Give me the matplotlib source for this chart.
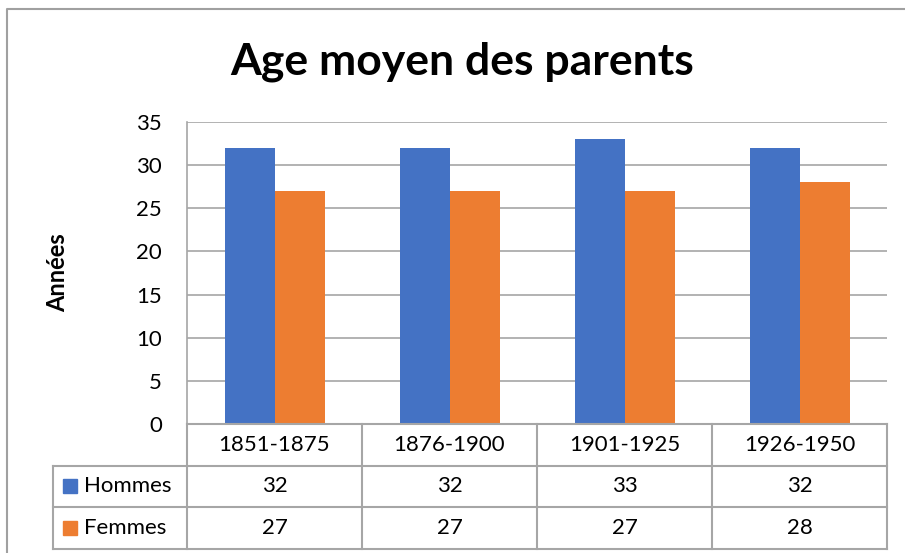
import matplotlib.pyplot as plt
import numpy as np

# -----------------------------
# Data
# -----------------------------
periods = ["1851-1875", "1876-1900", "1901-1925", "1926-1950"]
hommes = [32, 32, 33, 32]
femmes = [27, 27, 27, 28]
series_names = ["Hommes", "Femmes"]
colors = ["#4472C4", "#ED7D31"]
yticks = [0, 5, 10, 15, 20, 25, 30, 35]

plt.rcParams['font.family'] = ['Lato', 'DejaVu Sans']

W, H = 905, 553
fig = plt.figure(figsize=(W / 100, H / 100), dpi=100)

# plot area in pixels
L, R, T, B = 187, 887, 122, 424
row_h = 41.5
grid_col = "#A6A6A6"

ax = fig.add_axes([L / W, 1 - B / H, (R - L) / W, (B - T) / H])
x = np.arange(len(periods))
bw = 50 / 175
ax.bar(x - bw / 2, hommes, bw, color=colors[0], zorder=3)
ax.bar(x + bw / 2, femmes, bw, color=colors[1], zorder=3)
ax.set_xlim(-0.5, len(periods) - 0.5)
ax.set_ylim(0, 35)
ax.set_yticks(yticks)
ax.yaxis.grid(True, color=grid_col, linewidth=1.2, zorder=0)
ax.tick_params(axis='y', length=0, labelsize=16, pad=18)
ax.set_xticks([])
for s in ["top", "right", "bottom"]:
    ax.spines[s].set_visible(False)
ax.spines["left"].set_color(grid_col)
ax.spines["left"].set_linewidth(1.2)

# overlay in pixel coordinates for the data table and frame
ov2 = fig.add_axes([0, 0, 1, 1])
ov2.set_xlim(0, W)
ov2.set_ylim(H, 0)
ov2.axis('off')
ov2.patch.set_alpha(0)

# chart frame
ov2.plot([7, 7, W + 5], [H + 5, 9, 9], color="#A0A0A0", lw=1.5)

ov2.text(W / 2 + 10, 62, "Age moyen des parents", ha='center', va='center',
         fontsize=32, fontweight='bold')
ov2.text(58, (T + B) / 2, "Années", ha='center', va='center', rotation=90,
         fontsize=17, fontweight='bold')

cw = (R - L) / len(periods)
col_edges = [L + i * cw for i in range(len(periods) + 1)]
ys = [B + i * row_h for i in range(4)]
lc, lw = "#A6A6A6", 1.5

# horizontal lines
ov2.plot([L, R], [ys[0], ys[0]], color=lc, lw=lw)
for yy in ys[1:]:
    ov2.plot([53, R], [yy, yy], color=lc, lw=lw)
# vertical lines
for xx in col_edges:
    ov2.plot([xx, xx], [ys[0], ys[3]], color=lc, lw=lw)
ov2.plot([53, 53], [ys[1], ys[3]], color=lc, lw=lw)

# header text
for i, p in enumerate(periods):
    ov2.text(col_edges[i] + cw / 2, (ys[0] + ys[1]) / 2, p, ha='center',
             va='center', fontsize=16)

# rows
for r, (name, vals) in enumerate(zip(series_names, [hommes, femmes])):
    yc = (ys[r + 1] + ys[r + 2]) / 2
    ov2.add_patch(plt.Rectangle((63, yc - 7), 14, 14, color=colors[r]))
    ov2.text(84, yc, name, ha='left', va='center', fontsize=16)
    for i, v in enumerate(vals):
        ov2.text(col_edges[i] + cw / 2, yc, str(v), ha='center', va='center',
                 fontsize=16)

fig.savefig("out.png", dpi=100)
